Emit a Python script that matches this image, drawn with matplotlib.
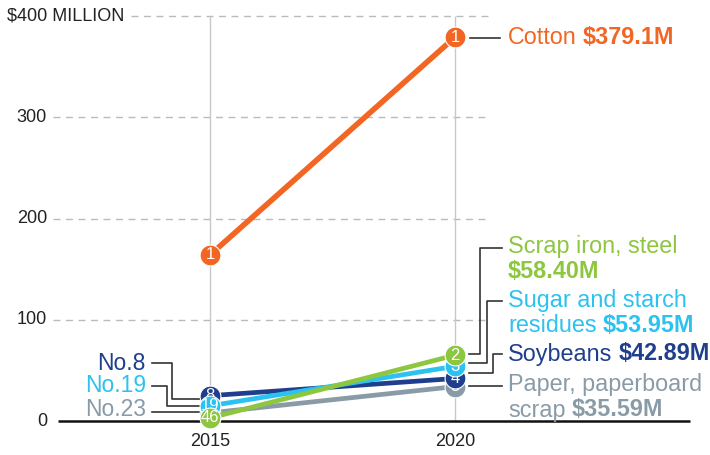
import matplotlib
matplotlib.use('Agg')
import matplotlib.pyplot as plt

plt.rcParams['font.family'] = ['Liberation Sans', 'DejaVu Sans']

years = [2015, 2020]
# drawing order: back to front
names = ['Cotton', 'Paper, paperboard scrap', 'Soybeans', 'Sugar and starch residues', 'Scrap iron, steel']
v2015 = [164, 8, 25, 15, 3]
v2020 = [379.1, 34, 42, 54, 65]
rank2015 = ['1', '23', '8', '19', '46']
rank2020 = ['1', '5', '4', '3', '2']
value_labels = ['$379.1M', '$35.59M', '$42.89M', '$53.95M', '$58.40M']
colors = ['#F26522', '#8A9BA8', '#1F3F8C', '#2CC2F0', '#8DC63F']

# pixel -> data helpers for layout (2015 at x=210px, 2020 at 455px; 0 at y=421px, 400 at 16px)
def X(px):
    return 2015 + (px - 210) / 49.0

def Y(px):
    return (421 - px) / 1.0125

fig = plt.figure(figsize=(7.1, 4.55), dpi=100)
ax = fig.add_axes([0, 0, 1, 1])
ax.set_xlim(X(0), X(710))
ax.set_ylim(Y(455), Y(0))
ax.axis('off')

# grid
ax.hlines([100, 200, 300], X(53), X(490), colors='#BBBBBB', lw=1, linestyles=(0, (5, 4)), zorder=1)
ax.hlines([400], X(131), X(490), colors='#BBBBBB', lw=1, linestyles=(0, (5, 4)), zorder=1)
ax.vlines(years, 0, 400, colors='#C8C8C8', lw=1, zorder=1)
ax.hlines([0], X(58), X(690), colors='#111111', lw=1.8, zorder=2)

# y labels
for v in [0, 100, 200, 300]:
    ax.text(X(47), v, str(v), ha='right', va='center', fontsize=13, color='#222222')
ax.text(X(7), 400, '$400 MILLION', ha='left', va='center', fontsize=13, color='#222222')
for yr in years:
    ax.text(yr, Y(442), str(yr), ha='center', va='center', fontsize=13, color='#222222')

# series
for i in range(len(names)):
    z = 3 + 2 * i
    lw = 4 if i == 0 else 3.4
    ax.plot(years, [v2015[i], v2020[i]], color=colors[i], lw=lw, marker='o', ms=15,
            mec='white', mew=0.8, zorder=z, solid_capstyle='round')
    ax.text(years[0], v2015[i], rank2015[i], color='white', ha='center', va='center',
            fontsize=12, zorder=z + 1)
    ax.text(years[1], v2020[i], rank2020[i], color='white', ha='center', va='center',
            fontsize=12, zorder=z + 1)

# leader lines
leaders = [
    [(470, 38), (500, 38)],
    [(469, 354), (480, 354), (480, 248), (502, 248)],
    [(469, 363), (487, 363), (487, 301), (502, 301)],
    [(469, 373), (493, 373), (493, 354), (502, 354)],
    [(469, 386), (502, 386)],
    [(152, 363), (172, 363), (172, 399), (200, 399)],
    [(152, 386), (167, 386), (167, 406), (200, 406)],
    [(152, 412), (200, 412)],
]
for pts in leaders:
    ax.plot([X(p[0]) for p in pts], [Y(p[1]) for p in pts], color='#333333', lw=1.2, zorder=2)

fs = 16.8

def label(x, y, name, value, color):
    if name:
        t = ax.text(x, y, name, ha='left', va='center', fontsize=fs, color=color)
        if value:
            ax.annotate(value, xy=(1, 0), xycoords=t, xytext=(4.6, 0), textcoords='offset points',
                        ha='left', va='bottom', fontsize=fs, color=color, weight='bold')
    else:
        ax.text(x, y, value, ha='left', va='center', fontsize=fs, color=color, weight='bold')

tx = X(508)
label(tx, Y(38), 'Cotton', value_labels[0], colors[0])
label(tx, Y(246), 'Scrap iron, steel', None, colors[4])
label(tx, Y(272), None, value_labels[4], colors[4])
label(tx, Y(300), 'Sugar and starch', None, colors[3])
label(tx, Y(325), 'residues', value_labels[3], colors[3])
label(tx, Y(354), 'Soybeans', value_labels[2], colors[2])
label(tx, Y(385), 'Paper, paperboard', None, colors[1])
label(tx, Y(410), 'scrap', value_labels[1], colors[1])

# left rank labels
for txt, ypx, c in [('No.8', 363, colors[2]), ('No.19', 386, colors[3]), ('No.23', 410, colors[1])]:
    ax.text(X(146), Y(ypx), txt, ha='right', va='center', fontsize=16.5, color=c)

fig.savefig('out.png', dpi=100)
plt.close(fig)
